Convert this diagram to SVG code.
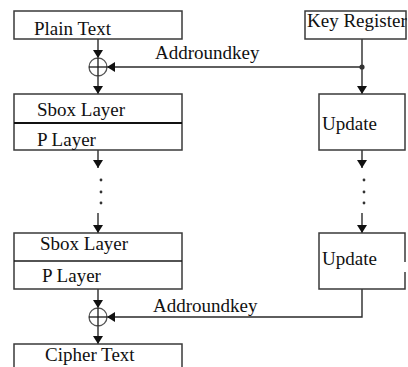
<svg xmlns="http://www.w3.org/2000/svg" width="408" height="367" viewBox="0 0 408 367">
<style>
.box{fill:#fff;stroke:#3a3a3a;stroke-width:1.5}
.ln{fill:none;stroke:#2a2a2a;stroke-width:1.4}
.div{stroke:#1a1a1a;stroke-width:1.3}
.thick{stroke:#111;stroke-width:2.2}
.xor{fill:#fff;stroke:#555;stroke-width:1.3}
.t{font-family:"Liberation Serif","Times New Roman",serif;font-size:19px;fill:#111}
.dot{fill:#333}
</style>
<defs>
<marker id="ah" markerWidth="8" markerHeight="10" refX="8" refY="5" orient="auto" markerUnits="userSpaceOnUse" viewBox="0 0 8 10">
<path d="M0,0 L8,5 L0,10 Z" fill="#111"/>
</marker>
</defs>
<g id="connectors">
<line class="ln" x1="98" y1="39" x2="98" y2="58" marker-end="url(#ah)"/>
<line class="ln" x1="98" y1="76" x2="98" y2="94" marker-end="url(#ah)"/>
<line class="ln" x1="98" y1="150" x2="98" y2="168" marker-end="url(#ah)"/>
<line class="ln" x1="98" y1="213" x2="98" y2="233" marker-end="url(#ah)"/>
<line class="ln" x1="98" y1="289" x2="98" y2="308" marker-end="url(#ah)"/>
<line class="ln" x1="98" y1="326" x2="98" y2="344" marker-end="url(#ah)"/>
<line class="ln" x1="362" y1="39" x2="362" y2="94" marker-end="url(#ah)"/>
<line class="ln" x1="362" y1="67" x2="107" y2="67" marker-end="url(#ah)"/>
<circle class="dot" cx="362" cy="67" r="2.6"/>
<line class="ln" x1="362" y1="150" x2="362" y2="168" marker-end="url(#ah)"/>
<line class="ln" x1="362" y1="213" x2="362" y2="233" marker-end="url(#ah)"/>
<polyline class="ln" points="362,289 362,317 107,317" marker-end="url(#ah)"/>
<circle class="dot" cx="101" cy="180" r="1.4"/>
<circle class="dot" cx="101" cy="192" r="1.4"/>
<circle class="dot" cx="101" cy="203" r="1.4"/>
<circle class="dot" cx="364" cy="180" r="1.4"/>
<circle class="dot" cx="364" cy="192" r="1.4"/>
<circle class="dot" cx="364" cy="203" r="1.4"/>
<text class="t" x="155" y="59">Addroundkey</text>
<text class="t" x="153" y="312">Addroundkey</text>
</g>
<g id="xor1">
<circle class="xor" cx="98" cy="67" r="9"/>
<line class="div" x1="89" y1="67" x2="107" y2="67"/>
<line class="div" x1="98" y1="58" x2="98" y2="76"/>
</g>
<g id="xor2">
<circle class="xor" cx="98" cy="317" r="9"/>
<line class="div" x1="89" y1="317" x2="107" y2="317"/>
<line class="div" x1="98" y1="308" x2="98" y2="326"/>
</g>
<g id="plain">
<rect class="box" x="14" y="11" width="168" height="28"/>
<text class="t" x="34" y="35">Plain Text</text>
</g>
<g id="keyreg">
<rect class="box" x="305" y="11" width="101" height="28"/>
<text class="t" x="307" y="27">Key Register</text>
</g>
<g id="round1">
<rect class="box" x="14" y="94" width="168" height="56"/>
<line class="thick" x1="14" y1="123" x2="182" y2="123"/>
<text class="t" x="37" y="116">Sbox Layer</text>
<text class="t" x="37" y="146">P Layer</text>
</g>
<g id="update1">
<rect class="box" x="319" y="94" width="86" height="56"/>
<text class="t" x="322" y="130">Update</text>
</g>
<g id="round2">
<rect class="box" x="14" y="233" width="168" height="56"/>
<line class="div" x1="14" y1="261" x2="182" y2="261"/>
<text class="t" x="40" y="250">Sbox Layer</text>
<text class="t" x="42" y="282">P Layer</text>
</g>
<g id="update2">
<path class="box" d="M405,262 L405,233 L319,233 L319,289 L405,289 L405,272"/>
<text class="t" x="322" y="265">Update</text>
</g>
<g id="cipher">
<rect class="box" x="14" y="344" width="168" height="30"/>
<text class="t" x="45" y="361">Cipher Text</text>
</g>
</svg>
